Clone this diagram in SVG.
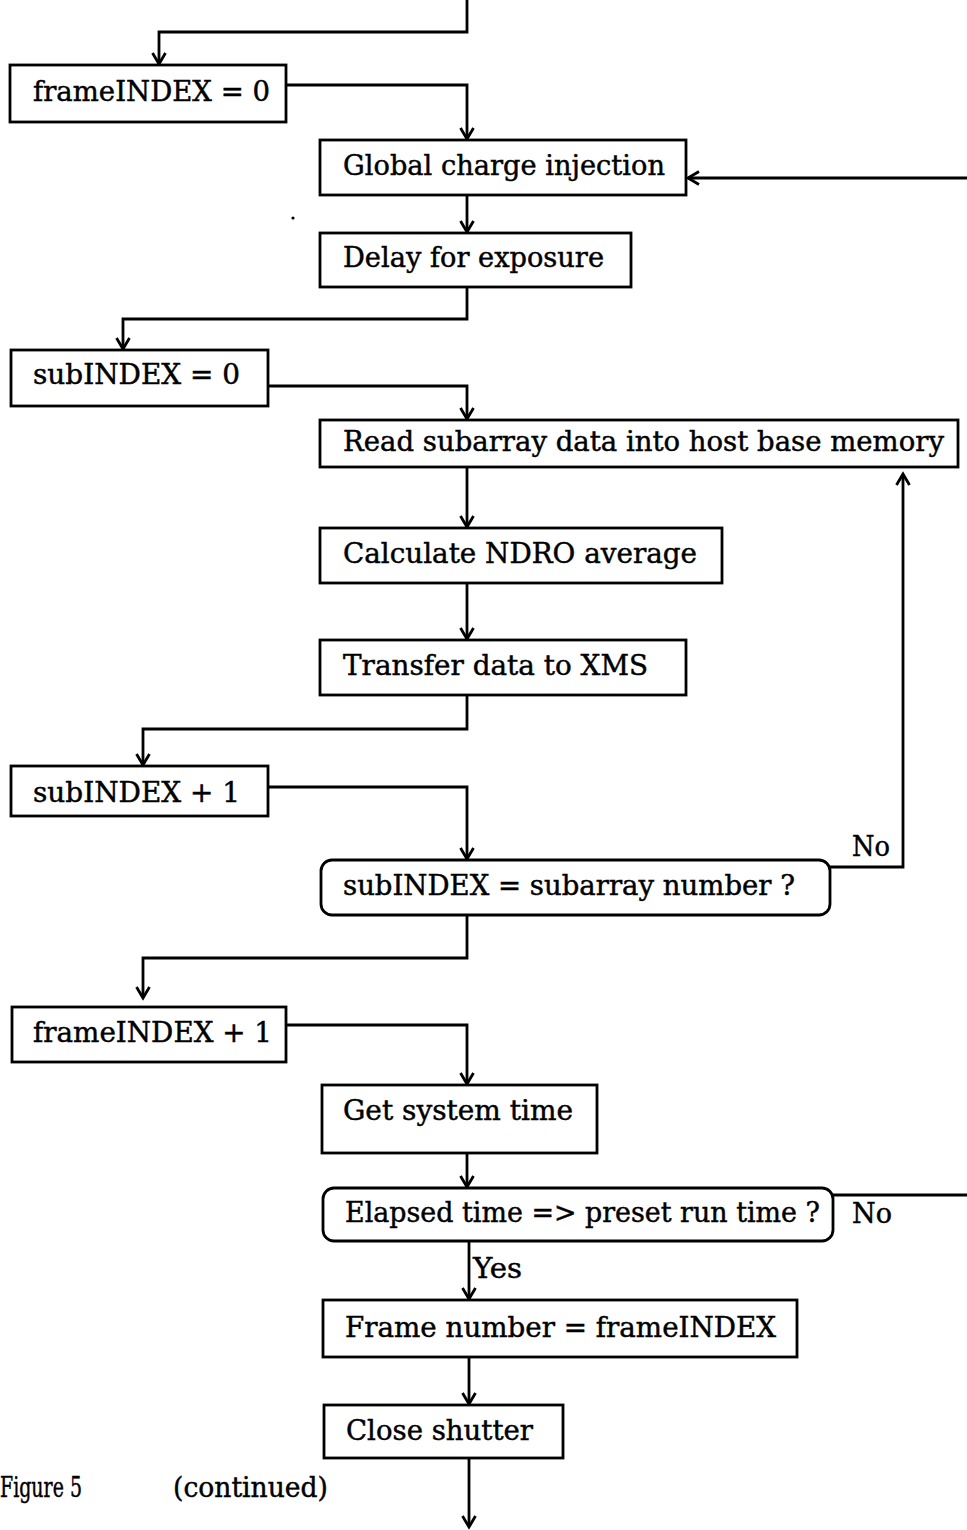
<svg xmlns="http://www.w3.org/2000/svg" width="967" height="1530" viewBox="0 0 967 1530">
  <style>
    .box { fill: #fff; stroke: #000; stroke-width: 2.8; }
    .wire { fill: none; stroke: #000; stroke-width: 2.8; }
    .lbl { font-family: "DejaVu Serif", "Liberation Serif", serif; font-size: 27px; fill: #000; stroke: #000; stroke-width: 0.45; }
  </style>
  <defs>
    <marker id="arrow" markerUnits="userSpaceOnUse" markerWidth="18" markerHeight="18" viewBox="-14 -9 16 18" refX="0" refY="0" orient="auto">
      <path d="M-11,-6.5 L0,0 L-11,6.5" fill="none" stroke="#000" stroke-width="2.8"/>
    </marker>
  </defs>
  <rect width="967" height="1530" fill="#fff"/>

  <g id="connectors">
    <path class="wire" d="M467,0 V32 H159 V64" marker-end="url(#arrow)"/>
    <path class="wire" d="M286,85 H467 V139" marker-end="url(#arrow)"/>
    <path class="wire" d="M967,178 H688" marker-end="url(#arrow)"/>
    <path class="wire" d="M467,195 V232" marker-end="url(#arrow)"/>
    <path class="wire" d="M467,287 V319 H123 V349" marker-end="url(#arrow)"/>
    <path class="wire" d="M268,386 H467 V419" marker-end="url(#arrow)"/>
    <path class="wire" d="M467,467 V527" marker-end="url(#arrow)"/>
    <path class="wire" d="M467,583 V639" marker-end="url(#arrow)"/>
    <path class="wire" d="M467,695 V729 H143 V765" marker-end="url(#arrow)"/>
    <path class="wire" d="M268,787 H467 V859" marker-end="url(#arrow)"/>
    <path class="wire" d="M822,867 H903 V474" marker-end="url(#arrow)"/>
    <path class="wire" d="M467,915 V958 H143 V998" marker-end="url(#arrow)"/>
    <path class="wire" d="M286,1025 H467 V1084" marker-end="url(#arrow)"/>
    <path class="wire" d="M467,1153 V1187" marker-end="url(#arrow)"/>
    <path class="wire" d="M825,1195 H967"/>
    <path class="wire" d="M469,1241 V1299" marker-end="url(#arrow)"/>
    <path class="wire" d="M469,1357 V1404" marker-end="url(#arrow)"/>
    <path class="wire" d="M469,1458 V1527" marker-end="url(#arrow)"/>
  </g>

  <g id="frame-index-init">
    <rect class="box" x="10" y="65" width="276" height="57"/>
    <text class="lbl" x="33" y="101" textLength="237" lengthAdjust="spacingAndGlyphs">frameINDEX = 0</text>
  </g>
  <g id="global-charge-injection">
    <rect class="box" x="320" y="140" width="366" height="55"/>
    <text class="lbl" x="343" y="175" textLength="322" lengthAdjust="spacingAndGlyphs">Global charge injection</text>
  </g>
  <g id="delay-for-exposure">
    <rect class="box" x="320" y="233" width="311" height="54"/>
    <text class="lbl" x="343" y="267" textLength="261" lengthAdjust="spacingAndGlyphs">Delay for exposure</text>
  </g>
  <g id="sub-index-init">
    <rect class="box" x="11" y="350" width="257" height="56"/>
    <text class="lbl" x="33" y="384" textLength="207" lengthAdjust="spacingAndGlyphs">subINDEX = 0</text>
  </g>
  <g id="read-subarray">
    <rect class="box" x="320" y="420" width="638" height="47"/>
    <text class="lbl" x="343" y="451" textLength="601" lengthAdjust="spacingAndGlyphs">Read subarray data into host base memory</text>
  </g>
  <g id="calc-ndro">
    <rect class="box" x="320" y="528" width="402" height="55"/>
    <text class="lbl" x="343" y="563" textLength="354" lengthAdjust="spacingAndGlyphs">Calculate NDRO average</text>
  </g>
  <g id="transfer-xms">
    <rect class="box" x="320" y="640" width="366" height="55"/>
    <text class="lbl" x="343" y="675" textLength="305" lengthAdjust="spacingAndGlyphs">Transfer data to XMS</text>
  </g>
  <g id="sub-index-inc">
    <rect class="box" x="11" y="766" width="257" height="50"/>
    <text class="lbl" x="33" y="802" textLength="207" lengthAdjust="spacingAndGlyphs">subINDEX + 1</text>
  </g>
  <g id="sub-index-check">
    <rect class="box" x="321" y="860" width="509" height="55" rx="11" ry="11"/>
    <text class="lbl" x="343" y="895" textLength="452" lengthAdjust="spacingAndGlyphs">subINDEX = subarray number ?</text>
    <text class="lbl" x="852" y="856" textLength="38" lengthAdjust="spacingAndGlyphs">No</text>
  </g>
  <g id="frame-index-inc">
    <rect class="box" x="12" y="1007" width="274" height="55"/>
    <text class="lbl" x="33" y="1042" textLength="239" lengthAdjust="spacingAndGlyphs">frameINDEX + 1</text>
  </g>
  <g id="get-system-time">
    <rect class="box" x="322" y="1085" width="275" height="68"/>
    <text class="lbl" x="343" y="1120" textLength="230" lengthAdjust="spacingAndGlyphs">Get system time</text>
  </g>
  <g id="elapsed-check">
    <rect class="box" x="323" y="1188" width="510" height="53" rx="11" ry="11"/>
    <text class="lbl" x="345" y="1222" textLength="475" lengthAdjust="spacingAndGlyphs">Elapsed time =&gt; preset run time ?</text>
    <text class="lbl" x="852" y="1223" textLength="40" lengthAdjust="spacingAndGlyphs">No</text>
    <text class="lbl" x="473" y="1278" textLength="49" lengthAdjust="spacingAndGlyphs">Yes</text>
  </g>
  <g id="frame-number">
    <rect class="box" x="323" y="1300" width="474" height="57"/>
    <text class="lbl" x="345" y="1337" textLength="431" lengthAdjust="spacingAndGlyphs">Frame number = frameINDEX</text>
  </g>
  <g id="close-shutter">
    <rect class="box" x="324" y="1405" width="239" height="53"/>
    <text class="lbl" x="346" y="1440" textLength="187" lengthAdjust="spacingAndGlyphs">Close shutter</text>
  </g>

  <circle cx="293" cy="218" r="1.6" fill="#000"/>
  <text class="lbl" x="0" y="1497" textLength="82" lengthAdjust="spacingAndGlyphs">Figure 5</text>
  <text class="lbl" x="173" y="1497" textLength="155" lengthAdjust="spacingAndGlyphs">(continued)</text>
</svg>
